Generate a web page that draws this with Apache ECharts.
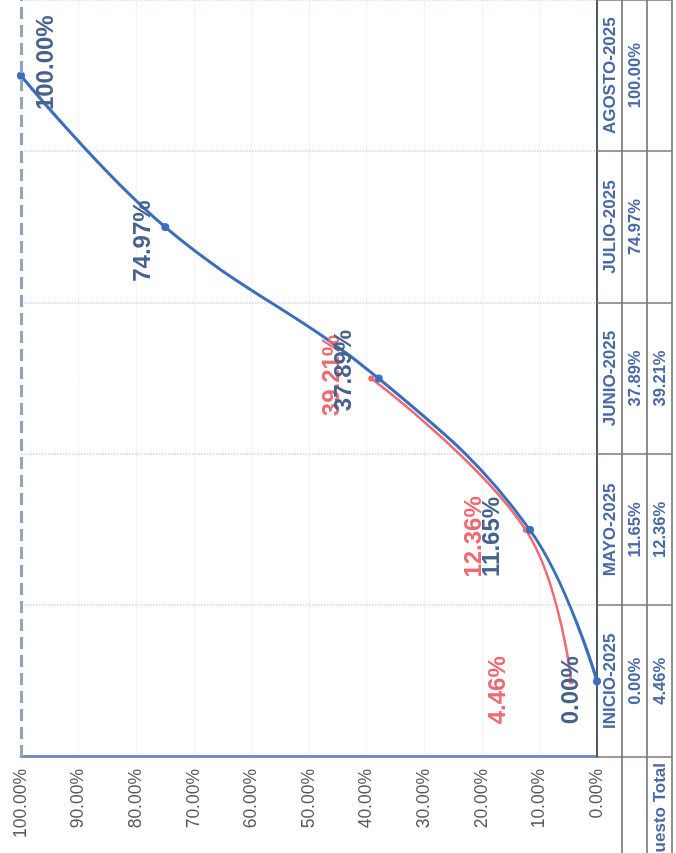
<!DOCTYPE html>
<html>
<head>
<meta charset="utf-8">
<script src="https://cdn.jsdelivr.net/npm/echarts@6/dist/echarts.min.js"></script>
<style>
  html, body { margin: 0; padding: 0; background: #fff; overflow: hidden; }
  #wrap { position: relative; width: 676px; height: 853px; overflow: hidden; }
  /* the scan is turned a quarter to the left, so the chart is drawn upright and rotated */
  #chart {
    position: absolute; left: 0; top: 0;
    width: 853px; height: 676px;
    transform-origin: 0 0;
    transform: translateY(853px) rotate(-90deg);
  }
</style>
</head>
<body>
<div id="wrap"><div id="chart"></div></div>
<script>
var categories = ['INICIO-2025', 'MAYO-2025', 'JUNIO-2025', 'JULIO-2025', 'AGOSTO-2025'];
var avance = [0, 0.1165, 0.3789, 0.7497, 1.0];
var presupuesto = [0.0446, 0.1236, 0.3921, null, null];

// hand placed data labels, [dx, dy] from the point
var avanceLabelOffsets = [[-9, -26], [-7, -38], [8, -34], [-14, -22], [13, 25]];
var presupuestoLabelOffsets = [[-9, -73], [-7, -51], [3, -39], [0, 0], [0, 0]];

var FONT = '"Liberation Sans Narrow", "Liberation Sans", sans-serif';
var ROW = 25;

function pct(v) {
    if (v === null || v === undefined) return '';
    return (v * 100).toFixed(2) + '%';
}

function withLabels(values, offsets) {
    return values.map(function (v, i) {
        return { value: v, label: { offset: offsets[i] } };
    });
}

var chart = echarts.init(document.getElementById('chart'));

var tableAxis = function (labels, offset, name) {
    return {
        type: 'category',
        data: labels,
        position: 'bottom',
        offset: offset,
        name: name || '',
        nameLocation: 'start',
        nameGap: 6,
        nameTextStyle: {
            color: '#4a6aa6', fontFamily: FONT, fontWeight: 'bold', fontSize: 17,
            align: 'right', verticalAlign: 'top', padding: [5, 0, 0, 0]
        },
        axisLine: { lineStyle: { color: '#6b6b6b', width: 1.5 } },
        axisTick: { show: true, length: ROW, lineStyle: { color: '#8a7179', width: 1.5 } },
        axisLabel: {
            interval: 0, margin: 13, verticalAlign: 'middle',
            color: '#4a6aa6', fontFamily: FONT, fontWeight: 'bold', fontSize: 16.5
        },
        splitLine: { show: false }
    };
};

var xAxes = [
    tableAxis(categories, 0),
    tableAxis(avance.map(pct), ROW),
    tableAxis(presupuesto.map(pct), ROW * 2, 'Presupuesto Total'),
    {
        type: 'category', data: categories, position: 'bottom', offset: ROW * 3,
        axisLine: { lineStyle: { color: '#6b6b6b', width: 1.5 } },
        axisTick: { show: false }, axisLabel: { show: false }
    }
];
xAxes[0].axisLine.lineStyle = { color: '#4d5a6e', width: 2 };
xAxes[0].axisLabel.fontSize = 17;
xAxes[0].splitLine = { show: true, lineStyle: { color: '#c9d6ea', type: 'dotted', width: 1.5 } };

option = {
    animation: false,
    grid: { left: 96, right: 0, top: 21, bottom: 79, containLabel: false, outerBoundsMode: 'none' },
    xAxis: xAxes,
    yAxis: {
        type: 'value',
        min: 0, max: 1, interval: 0.1,
        axisLine: { show: true, lineStyle: { color: '#7590b8', width: 3 } },
        axisTick: { show: false },
        axisLabel: {
            margin: 12, color: '#5a5a5a', fontFamily: FONT, fontSize: 17.5,
            formatter: pct
        },
        splitLine: { lineStyle: { color: '#f1f3f6', width: 1 } }
    },
    graphic: [0, 1, 2].map(function (k) {
        return {
            type: 'line', silent: true,
            shape: { x1: 0, y1: 597 + ROW * (k + 1), x2: 96, y2: 597 + ROW * (k + 1) },
            style: { stroke: '#6b6b6b', lineWidth: 1.5 }
        };
    }),
    series: [
        {
            name: 'Presupuesto Total',
            type: 'line',
            smooth: 0.4,
            data: withLabels(presupuesto, presupuestoLabelOffsets),
            symbol: 'circle', symbolSize: 6,
            itemStyle: { color: '#ee6b73' },
            lineStyle: { color: '#ee6b73', width: 2.5 },
            label: {
                show: true, position: 'inside', formatter: function (p) { return pct(p.value); },
                color: '#ef6a72', fontFamily: FONT, fontWeight: 'bold', fontSize: 24
            }
        },
        {
            name: 'Avance',
            type: 'line',
            smooth: 0.4,
            data: withLabels(avance, avanceLabelOffsets),
            symbol: 'circle', symbolSize: 8,
            itemStyle: { color: '#3b6fbd' },
            lineStyle: { color: '#3b6fbd', width: 3 },
            label: {
                show: true, position: 'inside', formatter: function (p) { return pct(p.value); },
                color: '#46638f', fontFamily: FONT, fontWeight: 'bold', fontSize: 24
            },
            markLine: {
                silent: true, symbol: 'none', label: { show: false },
                lineStyle: { color: '#8ea4c4', type: 'dashed', width: 3 },
                data: [{ yAxis: 1 }]
            }
        }
    ]
};

chart.setOption(option);
</script>
</body>
</html>
